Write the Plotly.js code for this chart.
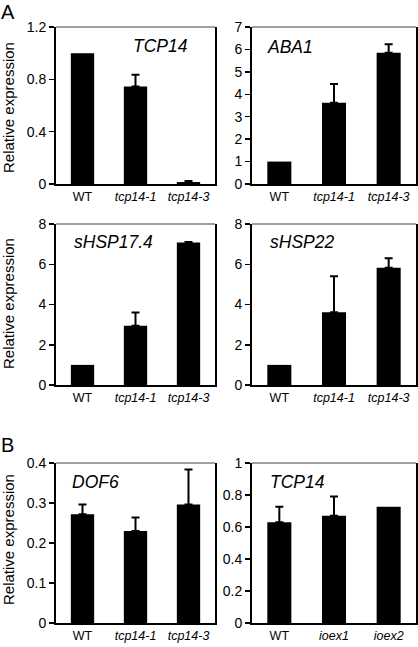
<!DOCTYPE html>
<html>
<head>
<meta charset="utf-8">
<script src="https://cdn.plot.ly/plotly-3.0.1.min.js"></script>
<style>html,body{margin:0;padding:0;background:#fff;}#chart{width:418px;height:647px;}</style>
</head>
<body>
<div id="chart"></div>
<script>
// ---- data ----
const mutantCats = ["WT", "tcp14-1", "tcp14-3"];
const mutantLabels = ["WT", "<i>tcp14-1</i>", "<i>tcp14-3</i>"];
const oxCats = ["WT", "ioex1", "ioex2"];
const oxLabels = ["WT", "<i>ioex1</i>", "<i>ioex2</i>"];

// NaN = no error bar drawn
const tcp14A = [1.0, 0.745, 0.015];
const tcp14AErr = [NaN, 0.09, 0.007];
const aba1 = [1.0, 3.62, 5.85];
const aba1Err = [NaN, 0.84, 0.38];
const hsp174 = [1.0, 2.95, 7.08];
const hsp174Err = [NaN, 0.65, 0.03];
const hsp22 = [1.0, 3.62, 5.83];
const hsp22Err = [NaN, 1.78, 0.47];
const dof6 = [0.272, 0.23, 0.296];
const dof6Err = [0.024, 0.034, 0.088];
const tcp14B = [0.63, 0.67, 0.727];
const tcp14BErr = [0.097, 0.12, NaN];

const panelTitles = ["TCP14", "ABA1", "sHSP17.4", "sHSP22", "DOF6", "TCP14"];
const yRanges = [[0, 1.2], [0, 7], [0, 8], [0, 8], [0, 0.4], [0, 1]];
const yDticks = [0.4, 1, 2, 2, 0.1, 0.2];

// ---- layout helpers ----
const W = 418, H = 647;
const colsPx = [[56, 215], [252, 416]];
const rowsPx = [[27, 184], [224, 385], [463, 623]];
const px2x = p => p / W;
const px2y = p => 1 - p / H;

const panels = [
  {cats: mutantCats, labels: mutantLabels, y: tcp14A, e: tcp14AErr},
  {cats: mutantCats, labels: mutantLabels, y: aba1, e: aba1Err},
  {cats: mutantCats, labels: mutantLabels, y: hsp174, e: hsp174Err},
  {cats: mutantCats, labels: mutantLabels, y: hsp22, e: hsp22Err},
  {cats: mutantCats, labels: mutantLabels, y: dof6, e: dof6Err},
  {cats: oxCats, labels: oxLabels, y: tcp14B, e: tcp14BErr}
];

const FONT = "Liberation Sans, Arial, sans-serif";
const data = [];
const layout = {
  width: W, height: H,
  margin: {l: 0, r: 0, t: 0, b: 0},
  paper_bgcolor: "#fff", plot_bgcolor: "#fff",
  showlegend: false,
  font: {family: FONT, color: "#000"},
  annotations: [], shapes: []
};

const titlePos = [[160, 46], [290, 47], [113, 242], [302, 242], [95, 482], [297, 482]];

panels.forEach((p, i) => {
  const n = i + 1;
  const xa = "x" + (n === 1 ? "" : n), ya = "y" + (n === 1 ? "" : n);
  const col = colsPx[i % 2], row = rowsPx[Math.floor(i / 2)];
  data.push({
    type: "bar", x: p.cats, y: p.y, xaxis: xa, yaxis: ya,
    width: 0.44,
    marker: {color: "#000", line: {width: 0}},
    error_y: {type: "data", symmetric: false, array: p.e,
              arrayminus: p.e.map(v => isNaN(v) ? NaN : 0),
              color: "#000", thickness: 2, width: 4},
    hoverinfo: "skip"
  });
  layout["xaxis" + (n === 1 ? "" : n)] = {
    domain: [px2x(col[0]), px2x(col[1])], anchor: ya,
    type: "category", range: [-0.5, 2.5],
    tickvals: p.cats, ticktext: p.labels,
    showgrid: false, zeroline: false,
    showline: true, linecolor: "#000", linewidth: 2,
    ticks: "", tickfont: {family: FONT, size: 12.5, color: "#000"},
    fixedrange: true
  };
  layout["yaxis" + (n === 1 ? "" : n)] = {
    domain: [px2y(row[1]), px2y(row[0])], anchor: xa,
    range: yRanges[i], dtick: yDticks[i], tick0: 0,
    showgrid: false, zeroline: false,
    showline: true, linecolor: "#000", linewidth: 2, mirror: true,
    ticks: "outside", ticklen: 5, tickwidth: 1.5, tickcolor: "#000",
    tickfont: {family: FONT, size: 14, color: "#000"},
    fixedrange: true
  };
  // gray top frame line
  layout.shapes.push({
    type: "line", xref: xa + " domain", yref: ya + " domain",
    x0: 0, x1: 1, y0: 1, y1: 1, line: {color: "#808080", width: 1.5}
  });
  layout.annotations.push({
    text: "<i>" + panelTitles[i] + "</i>", xref: "paper", yref: "paper",
    x: px2x(titlePos[i][0]), y: px2y(titlePos[i][1]),
    xanchor: "center", yanchor: "middle", showarrow: false,
    font: {family: FONT, size: 17.5, color: "#000"}
  });
});

// y axis titles (left column)
[[8, 108], [8, 304], [8, 540]].forEach(pos => {
  layout.annotations.push({
    text: "Relative expression", textangle: -90, xref: "paper", yref: "paper",
    x: px2x(pos[0]), y: px2y(pos[1]), xanchor: "center", yanchor: "middle",
    showarrow: false, font: {family: FONT, size: 15, color: "#000"}
  });
});
// panel letters
[["A", 8, 12], ["B", 7, 445]].forEach(l => {
  layout.annotations.push({
    text: l[0], xref: "paper", yref: "paper",
    x: px2x(l[1]), y: px2y(l[2]), xanchor: "center", yanchor: "middle",
    showarrow: false, font: {family: FONT, size: 20, color: "#000"}
  });
});

Plotly.newPlot("chart", data, layout, {staticPlot: true, displayModeBar: false});
</script>
</body>
</html>
